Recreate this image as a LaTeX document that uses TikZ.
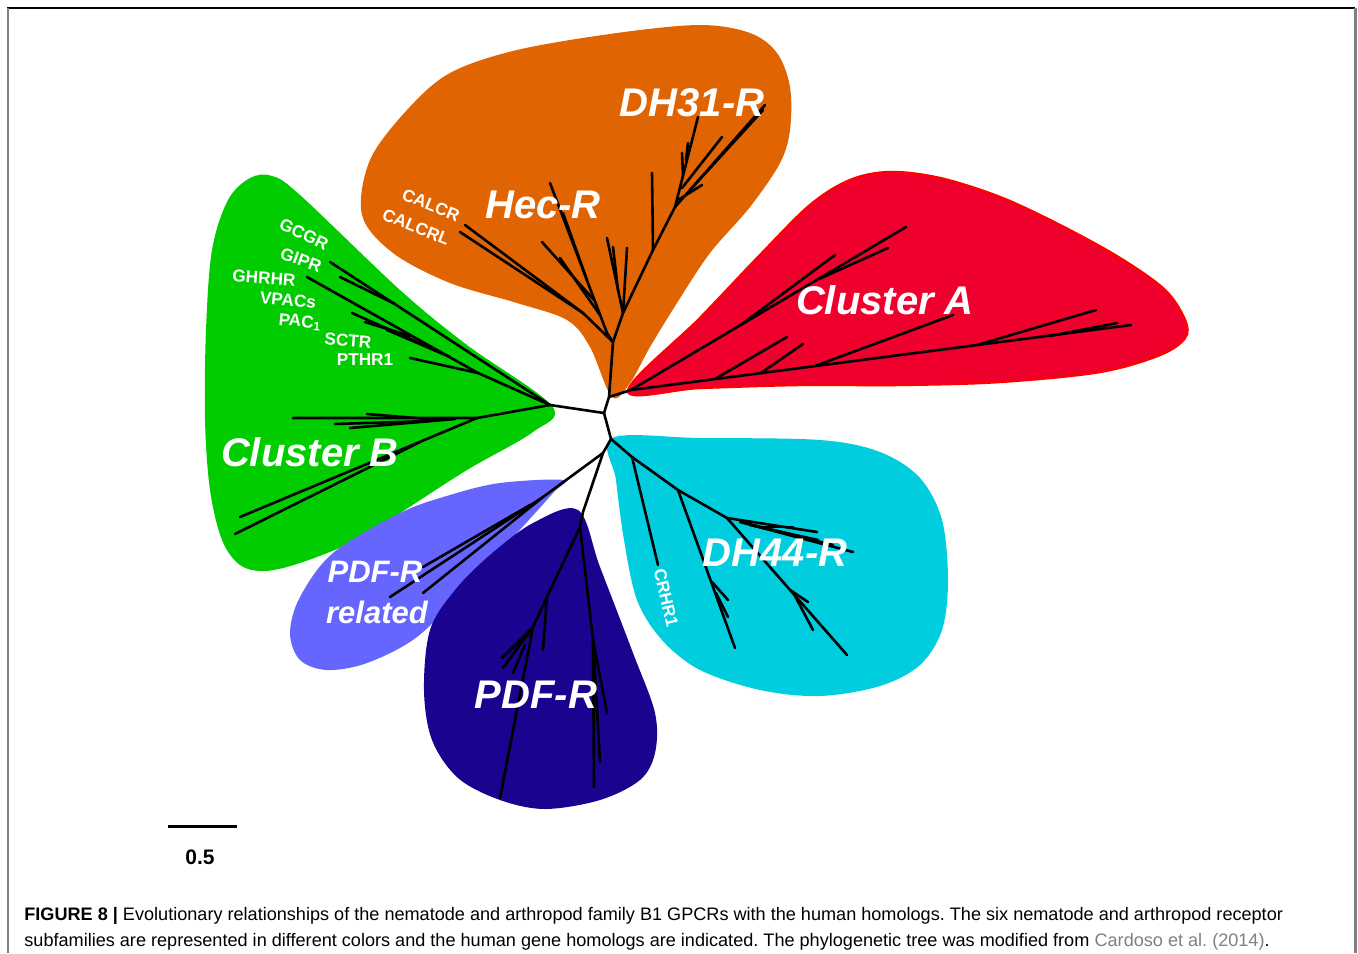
\documentclass[tikz,border=0pt]{standalone}
\usepackage{fontspec}
\setmainfont{Liberation Sans}
\frenchspacing
\definecolor{cgreen}{RGB}{0,204,0}
\definecolor{corange}{RGB}{225,100,3}
\definecolor{cred}{RGB}{240,0,44}
\definecolor{credline}{RGB}{255,0,0}
\definecolor{ccyan}{RGB}{0,206,222}
\definecolor{clav}{RGB}{102,102,255}
\definecolor{cdblue}{RGB}{26,3,142}
\definecolor{cgray}{RGB}{128,128,128}
\begin{document}
\begin{tikzpicture}[x=0.5pt,y=-0.5pt,
  tree/.style={line width=1.3pt,black,line join=round,line cap=round},
  big/.style={text=white,font=\fontsize{20}{24}\selectfont\bfseries\itshape,inner sep=0pt},
  mid/.style={text=white,font=\fontsize{15.5}{18}\selectfont\bfseries\itshape,inner sep=0pt},
  small/.style={text=white,font=\fontsize{8.6}{10}\selectfont\bfseries,inner sep=0pt},
  captxt/.style={font=\fontsize{9.05}{11}\selectfont,anchor=base west,inner sep=0pt},
  blob/.style={smooth cycle,tension=0.55}]
\useasboundingbox (0,0) rectangle (1358,953);
\fill[white] (0,0) rectangle (1358,953);
% frame
\draw[line width=1pt,black] (8,953) -- (8,8) -- (1355,8);
\draw[line width=1.5pt,cgray] (1355,8) -- (1355,953);
\draw[line width=0.6pt,cgray] (8,8) -- (8,953);
% blobs
\fill[cgreen] plot[blob] coordinates {(552,406) (533,432) (467,470) (400,513) (350,543) (300,563) (265,571) (240,565) (222,540) (210,490) (205,420) (206,330) (212,250) (228,200) (250,178) (272,176) (300,195) (400,290) (467,345)};
\fill[corange] plot[blob] coordinates {(612,397) (590,347) (567,320) (517,303) (450,283) (393,253) (362,215) (370,160) (407,110) (450,73) (517,50) (617,33) (700,25) (750,33) (777,53) (790,87) (790,130) (780,163) (750,207) (710,253) (677,303) (650,347) (630,383)};
\filldraw[fill=cred,draw=credline,line width=1.2pt] plot[blob] coordinates {(628,391) (700,318) (760,255) (810,205) (850,180) (890,172) (940,178) (1000,197) (1060,225) (1120,258) (1165,290) (1185,320) (1185,338) (1160,355) (1100,372) (1000,382) (900,385) (800,385) (700,388)};
\fill[ccyan] plot[blob] coordinates {(612,438) (700,438) (820,440) (880,452) (920,478) (942,520) (948,580) (942,630) (920,665) (880,686) (820,696) (760,690) (700,670) (662,640) (637,600) (624,540) (616,480)};
\fill[clav] plot[blob] coordinates {(563,480) (553,493) (517,533) (467,587) (417,637) (367,663) (327,670) (300,660) (290,633) (300,597) (333,553) (400,513) (450,495) (500,483)};
\fill[cdblue] plot[blob] coordinates {(578,510) (600,567) (633,653) (655,713) (655,753) (640,780) (600,800) (545,809) (500,800) (458,778) (432,740) (424,690) (430,630) (455,590) (490,555) (533,523)};
% central tree
\coordinate (g0) at (550,405);
\coordinate (c0) at (604,413);
\coordinate (c1) at (609,397);
\coordinate (r0) at (631,390);
\coordinate (c2) at (611,439);
\coordinate (p0) at (603,453);
\draw[tree] (g0) -- (c0) -- (c1) -- (613,342);
\draw[tree] (c1) -- (r0);
\draw[tree] (c0) -- (c2) -- (p0);
% green tree
\draw[tree] (g0) -- (330,262);
\draw[tree] (g0) -- (478,373);
\draw[tree] (478,373) -- (410,358);
\draw[tree] (478,373) -- (307,277);
\draw[tree] (395,304) -- (340,277);
\draw[tree] (440,352) -- (352,313);
\draw[tree] (450,357) -- (387,330);
\draw[tree] (410,336) -- (365,322);
\draw[tree] (g0) -- (477,418) -- (293,418);
\draw[tree] (440,420) -- (367,414);
\draw[tree] (430,421) -- (335,424);
\draw[tree] (455,419) -- (350,428);
\draw[tree] (477,418) -- (240,517);
\draw[tree] (420,442) -- (235,534);
% orange tree
\draw[tree] (613,342) -- (623,313) -- (653,250) -- (675,207);
\draw[tree] (613,342) -- (583,313) -- (465,225);
\draw[tree] (583,313) -- (460,232);
\draw[tree] (613,342) -- (607,333) -- (550,183);
\draw[tree] (594,300) -- (542,242);
\draw[tree] (600,315) -- (560,258);
\draw[tree] (587,280) -- (563,213);
\draw[tree] (623,313) -- (607,238);
\draw[tree] (618,290) -- (613,247);
\draw[tree] (623,313) -- (627,248);
\draw[tree] (653,250) -- (652,173);
\draw[tree] (675,207) -- (698,117);
\draw[tree] (675,207) -- (765,105);
\draw[tree] (690,190) -- (763,110);
\draw[tree] (682,188) -- (722,137);
\draw[tree] (678,200) -- (702,185);
\draw[tree] (683,175) -- (682,153);
\draw[tree] (686,160) -- (688,143);
% red tree
\draw[tree] (r0) -- (906,227);
\draw[tree] (819,279) -- (888,248);
\draw[tree] (742,324) -- (835,255);
\draw[tree] (r0) -- (1131,325);
\draw[tree] (715,379) -- (787,337);
\draw[tree] (761,373) -- (803,344);
\draw[tree] (815,366) -- (953,315);
\draw[tree] (977,345) -- (1096,310);
\draw[tree] (1050,336) -- (1117,323);
% cyan tree
\draw[tree] (c2) -- (632,457) -- (678,490) -- (727,518);
\draw[tree] (632,457) -- (658,565);
\draw[tree] (678,490) -- (735,648);
\draw[tree] (712,582) -- (728,600);
\draw[tree] (716,593) -- (728,617);
\draw[tree] (727,518) -- (847,655);
\draw[tree] (790,590) -- (808,602);
\draw[tree] (795,596) -- (813,630);
\draw[tree] (727,518) -- (817,532);
\draw[tree] (740,522) -- (853,552);
\draw[tree] (745,523) -- (833,545);
\draw[tree] (750,525) -- (818,540);
\draw[tree] (760,527) -- (793,527);
% PDF-R related tree
\draw[tree] (p0) -- (543,497) -- (390,597);
\draw[tree] (543,497) -- (423,593);
\draw[tree] (530,505) -- (423,567);
% PDF-R tree
\draw[tree] (p0) -- (583,512) -- (580,527) -- (547,597) -- (533,627) -- (500,798);
\draw[tree] (547,597) -- (543,650);
\draw[tree] (533,627) -- (502,658);
\draw[tree] (533,627) -- (503,668);
\draw[tree] (528,635) -- (507,653);
\draw[tree] (525,645) -- (513,673);
\draw[tree] (580,527) -- (593,640) -- (607,713);
\draw[tree] (593,640) -- (600,762);
\draw[tree] (593,640) -- (594,787);
% labels
\node[big] (dh31) at (692,103) {DH31-R};
\node[big] (hec) at (543,205) {Hec-R};
\node[big] (cla) at (885,300) {Cluster A};
\node[big] (clb) at (310,452) {Cluster B};
\node[big] (dh44) at (775,553) {DH44-R};
\node[big] (pdfr) at (536,695) {PDF-R};
\node[mid] (pdfrr1) at (375,572) {PDF-R};
\node[mid] (pdfrr2) at (377,612) {related};
\node[small,rotate=-22] (calcr) at (431,205) {CALCR};
\node[small,rotate=-22] (calcrl) at (416,227) {CALCRL};
\node[small,rotate=-25] (gcgr) at (304,234) {GCGR};
\node[small,rotate=-20] (gipr) at (301,260) {GIPR};
\node[small,rotate=-4] (ghrhr) at (264,278) {GHRHR};
\node[small,rotate=-5] (vpacs) at (288,300) {VPACs};
\node[small,rotate=-5] (pac) at (300,322) {PAC\textsubscript{1}};
\node[small,rotate=-5] (sctr) at (348,341) {SCTR};
\node[small] (pthr) at (365,360) {PTHR1};
\node[small,rotate=-77] (crhr) at (666,598) {CRHR1};
% scale bar
\coordinate (sb1) at (168,826);
\coordinate (sb2) at (237,826);
\draw[line width=1.5pt] (sb1) -- (sb2);
\node[font=\fontsize{10.5}{12}\selectfont\bfseries,inner sep=0pt] (sbl) at (200,857) {0.5};
% caption
\node[captxt] (cap1) at (24,920) {\textbf{FIGURE 8 |} Evolutionary relationships of the nematode and arthropod family B1 GPCRs with the human homologs. The six nematode and arthropod receptor};
\node[captxt] (cap2) at (24,946) {subfamilies are represented in different colors and the human gene homologs are indicated. The phylogenetic tree was modified from \textcolor{cgray}{Cardoso et al. (2014)}.};
\end{tikzpicture}
\end{document}
